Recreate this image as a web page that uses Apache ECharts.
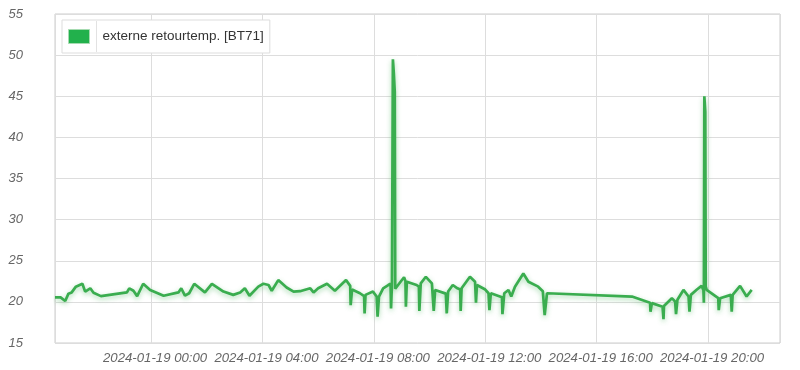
<!DOCTYPE html>
<html>
<head>
<meta charset="utf-8">
<script src="https://cdn.jsdelivr.net/npm/echarts@6/dist/echarts.min.js"></script>
<style>
html,body{margin:0;padding:0;background:#fff;}
#c{width:800px;height:370px;}
</style>
</head>
<body>
<div id="c"></div>
<script>
var seriesName = 'externe retourtemp. [BT71]';
var axisMin = '2024-01-18 20:33';
var axisMax = '2024-01-19 22:35';
var yTicks = [15, 20, 25, 30, 35, 40, 45, 50, 55];

var times = [
'2024-01-18 20:33','2024-01-18 20:45','2024-01-18 20:55','2024-01-18 21:02','2024-01-18 21:09','2024-01-18 21:18',
'2024-01-18 21:32','2024-01-18 21:38','2024-01-18 21:49','2024-01-18 21:56','2024-01-18 22:12','2024-01-18 23:08',
'2024-01-18 23:13','2024-01-18 23:22','2024-01-18 23:30','2024-01-18 23:43','2024-01-18 23:58',
'2024-01-19 00:27','2024-01-19 00:59','2024-01-19 01:05','2024-01-19 01:13','2024-01-19 01:22','2024-01-19 01:33',
'2024-01-19 01:56','2024-01-19 02:11','2024-01-19 02:36','2024-01-19 02:57','2024-01-19 03:12','2024-01-19 03:22',
'2024-01-19 03:32','2024-01-19 03:51','2024-01-19 04:02','2024-01-19 04:13','2024-01-19 04:20','2024-01-19 04:34',
'2024-01-19 04:52','2024-01-19 05:07','2024-01-19 05:21','2024-01-19 05:43','2024-01-19 05:50','2024-01-19 06:00',
'2024-01-19 06:19','2024-01-19 06:36','2024-01-19 07:00','2024-01-19 07:09','2024-01-19 07:10','2024-01-19 07:13',
'2024-01-19 07:30','2024-01-19 07:39','2024-01-19 07:40','2024-01-19 07:42','2024-01-19 07:58','2024-01-19 08:06',
'2024-01-19 08:08','2024-01-19 08:11','2024-01-19 08:20','2024-01-19 08:31','2024-01-19 08:36','2024-01-19 08:37',
'2024-01-19 08:39','2024-01-19 08:41','2024-01-19 08:43','2024-01-19 08:45','2024-01-19 08:46','2024-01-19 08:49',
'2024-01-19 09:05','2024-01-19 09:08','2024-01-19 09:09','2024-01-19 09:11','2024-01-19 09:32','2024-01-19 09:37',
'2024-01-19 09:38','2024-01-19 09:41','2024-01-19 09:52','2024-01-19 10:05','2024-01-19 10:08','2024-01-19 10:09',
'2024-01-19 10:12','2024-01-19 10:35','2024-01-19 10:37','2024-01-19 10:40','2024-01-19 10:50','2024-01-19 11:00',
'2024-01-19 11:06','2024-01-19 11:07','2024-01-19 11:09','2024-01-19 11:27','2024-01-19 11:38','2024-01-19 11:40',
'2024-01-19 11:42','2024-01-19 12:00','2024-01-19 12:07','2024-01-19 12:09','2024-01-19 12:12','2024-01-19 12:36',
'2024-01-19 12:37','2024-01-19 12:41','2024-01-19 12:50','2024-01-19 12:56','2024-01-19 13:04','2024-01-19 13:22',
'2024-01-19 13:33','2024-01-19 13:54','2024-01-19 14:04','2024-01-19 14:08','2024-01-19 14:13','2024-01-19 17:16',
'2024-01-19 17:55','2024-01-19 17:56','2024-01-19 17:59','2024-01-19 18:22','2024-01-19 18:24','2024-01-19 18:25',
'2024-01-19 18:42','2024-01-19 18:49','2024-01-19 18:51','2024-01-19 18:54','2024-01-19 19:07','2024-01-19 19:18',
'2024-01-19 19:20','2024-01-19 19:23','2024-01-19 19:36','2024-01-19 19:46','2024-01-19 19:50','2024-01-19 19:51',
'2024-01-19 19:52','2024-01-19 19:54','2024-01-19 19:55','2024-01-19 19:57','2024-01-19 20:22','2024-01-19 20:23',
'2024-01-19 20:26','2024-01-19 20:49','2024-01-19 20:51','2024-01-19 20:53','2024-01-19 21:09','2024-01-19 21:23',
'2024-01-19 21:34'
];

var values = [
20.55,20.55,20.1,21.0,21.15,21.85,
22.2,21.25,21.65,21.1,20.7,21.15,
21.65,21.35,20.7,22.2,21.45,
20.75,21.15,21.65,20.75,21.05,22.2,
21.15,22.2,21.25,20.85,21.15,21.65,
20.75,21.85,22.2,22.05,21.35,22.65,
21.75,21.25,21.3,21.65,21.15,21.65,
22.2,21.35,22.65,21.95,19.6,21.5,
21.05,20.7,18.6,20.85,21.25,20.65,
18.2,20.65,21.65,22.05,22.2,19.2,
22.25,49.5,47.8,45.55,21.6,21.45,
23.0,22.55,19.4,22.45,22.05,21.85,
18.9,22.25,23.05,22.25,22.05,18.9,
21.45,21.0,18.6,21.25,22.05,21.65,
21.5,18.9,21.65,23.05,22.45,19.9,
22.05,21.5,21.05,19.0,21.05,20.55,
18.5,21.05,21.45,20.65,21.85,23.45,
22.45,21.85,21.3,18.4,21.05,20.65,
19.9,18.8,19.85,19.4,17.9,19.5,
20.45,20.05,18.5,20.25,21.45,20.65,
18.8,20.85,21.5,21.95,21.45,19.9,
45.0,43.1,21.85,21.45,20.45,19.0,
20.45,20.85,18.8,20.85,21.95,20.65,
21.45
];

function pad(n){return (n<10?'0':'')+n;}
function fmt(v){
  var d = new Date(v);
  return d.getFullYear()+'-'+pad(d.getMonth()+1)+'-'+pad(d.getDate())+' '+pad(d.getHours())+':'+pad(d.getMinutes());
}
function parseT(s){
  var p = s.split(/[- :]/).map(Number);
  return new Date(p[0], p[1]-1, p[2], p[3], p[4]).getTime();
}

var data = times.map(function(t,i){return [parseT(t), values[i]];});

var chart = echarts.init(document.getElementById('c'), null, {renderer:'canvas'});
var FONT = '"Liberation Sans", Arial, sans-serif';
chart.setOption({
  animation: false,
  backgroundColor: '#fff',
  grid: {left: 55, right: 20, top: 14, bottom: 27, show: true, borderColor: '#cccccc', borderWidth: 1, containLabel: false},
  legend: {
    left: 62, top: 20,
    data: [{name: seriesName, icon: 'rect'}],
    itemWidth: 21, itemHeight: 14,
    padding: [9, 6, 9, 6],
    backgroundColor: '#ffffff',
    borderColor: '#dddddd', borderWidth: 1,
    itemStyle: {color: '#22b14c', borderColor: '#a6dbb1', borderWidth: 1},
    textStyle: {fontFamily: FONT, fontSize: 13.5, color: '#333333', padding: [0, 0, 0, 8]}
  },
  graphic: [{
    type: 'line', shape: {x1: 96.5, y1: 21, x2: 96.5, y2: 52},
    style: {stroke: '#e2e2e2', lineWidth: 1}, z: 100
  }],
  xAxis: {
    type: 'time',
    min: parseT(axisMin), max: parseT(axisMax),
    minInterval: 4*3600*1000, maxInterval: 4*3600*1000,
    axisLine: {show: false}, axisTick: {show: false},
    splitLine: {show: true, lineStyle: {color: '#dddddd', width: 1}},
    axisLabel: {
      showMinLabel: false, showMaxLabel: false,
      fontFamily: FONT, fontSize: 13.2, fontStyle: 'italic', color: '#666666', margin: 9,
      padding: [0, 0, 0, 8],
      formatter: function(v){return fmt(v);}
    }
  },
  yAxis: {
    type: 'value', min: yTicks[0], max: yTicks[yTicks.length-1], interval: yTicks[1]-yTicks[0],
    axisLine: {show: false}, axisTick: {show: false},
    splitLine: {show: true, lineStyle: {color: '#dddddd', width: 1}},
    axisLabel: {fontFamily: FONT, fontSize: 13, fontStyle: 'italic', color: '#666666', margin: 32}
  },
  series: [{
    name: seriesName, type: 'line', data: data,
    showSymbol: false, symbol: 'none',
    lineStyle: {color: '#3aad4f', width: 2.7, shadowColor: 'rgba(60,175,80,0.45)', shadowBlur: 5, shadowOffsetY: 2},
    itemStyle: {color: '#22b14c'}
  }]
});
</script>
</body>
</html>
